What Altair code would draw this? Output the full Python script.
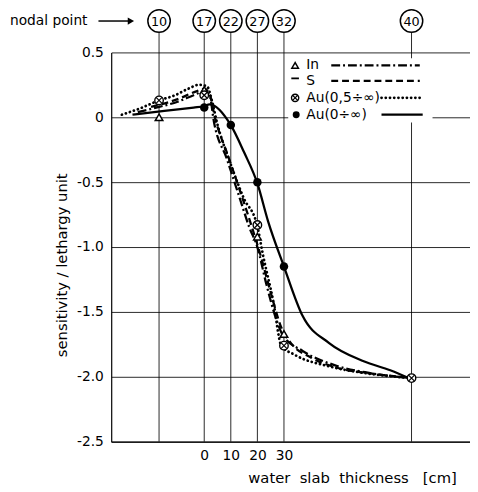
import altair as alt
import pandas as pd

FONT = "DejaVu Sans"
NB = "\u00a0"

# nodal points (water slab thickness position, cm)
nodal_labels = ["10", "17", "22", "27", "32", "40"]
nodal_x = [-17, 0, 10, 20, 30, 78]

x_ticks = [0, 10, 20, 30]
y_ticks = [0.5, 0, -0.5, -1.0, -1.5, -2.0, -2.5]

# curves
in_x = [-25, -17, -10, -4, 0, 2, 3.7, 8.5, 13.3, 17, 20, 23.3, 27, 29.6, 37, 49, 62, 78]
in_y = [0.04, 0.08, 0.12, 0.17, 0.20, 0.17, -0.04, -0.32, -0.62, -0.85, -1.0, -1.28, -1.55, -1.68, -1.80, -1.91, -1.97, -2.01]

s_x = [-20, -10, -3, 0, 2, 4, 9, 14, 18, 21, 25, 29, 33, 40, 50, 65, 78]
s_y = [0.08, 0.14, 0.20, 0.22, 0.18, 0.0, -0.30, -0.60, -0.85, -1.05, -1.35, -1.62, -1.75, -1.85, -1.93, -1.98, -2.01]

au05_x = [-31, -24, -17, -11, -6, -2, 1, 3, 4.8, 9.6, 14.8, 20, 22, 26, 29, 34, 47, 60, 78]
au05_y = [0.02, 0.07, 0.13, 0.17, 0.22, 0.25, 0.24, 0.12, -0.04, -0.34, -0.62, -0.84, -1.05, -1.42, -1.76, -1.83, -1.92, -1.97, -2.01]

au0_x = [-27, -15, -4, 0, 2, 10, 15, 20, 24, 30, 37, 47, 60, 70, 78]
au0_y = [0.02, 0.05, 0.075, 0.085, 0.10, -0.06, -0.27, -0.51, -0.80, -1.15, -1.53, -1.74, -1.88, -1.95, -2.02]

# markers
in_mark_x = [-17, 0, 20, 30]
in_mark_y = [0.0, 0.21, -0.92, -1.67]
au05_mark_x = [-17, 0, 20, 30, 78]
au05_mark_y = [0.13, 0.17, -0.83, -1.76, -2.01]
au0_mark_x = [0, 10, 20, 30]
au0_mark_y = [0.075, -0.06, -0.5, -1.15]

# legend
legend_names = ["In", "S", "Au(0,5÷∞)", "Au(0÷∞)"]
legend_y = [0.40, 0.28, 0.15, 0.02]
legend_line_x = [47.8, 47.8, 66.7, 66.7]
legend_line_x2 = [81.1, 81.1, 81.1, 82.2]

XS = alt.Scale(domain=[-35, 100], nice=False, zero=False)
YS = alt.Scale(domain=[-2.5, 0.5], nice=False, zero=False)

styles = {
    "In": dict(strokeDash=[9, 3, 2, 3], strokeWidth=2.3),
    "S": dict(strokeDash=[7, 4], strokeWidth=2.3),
    "Au(0,5÷∞)": dict(strokeDash=[0.1, 4.2], strokeWidth=2.8, strokeCap="round"),
    "Au(0÷∞)": dict(strokeWidth=2.3),
}

y_label_expr = "datum.value == 0 ? '0' : replace(format(datum.value, '.1f'), '\u2212', '-')"
x_title = f"water{NB}{NB}slab{NB}{NB}thickness{NB}{NB}{NB}[cm]"

base = alt.Chart(pd.DataFrame({"x": x_ticks, "y": [0] * len(x_ticks)})).mark_point(opacity=0).encode(
    x=alt.X("x:Q", scale=XS, axis=alt.Axis(
        values=x_ticks, grid=False, ticks=False, domainColor="black", domainWidth=1.2,
        labelFont=FONT, labelFontSize=14, labelColor="black", labelPadding=7,
        title=x_title, titleFont=FONT, titleFontSize=15,
        titleFontWeight="normal", titleColor="black", titleX=245, titleY=37,
        titleBaseline="middle", titleAlign="center")),
    y=alt.Y("y:Q", scale=YS, axis=alt.Axis(
        values=y_ticks, grid=True, gridColor="black", gridWidth=1, gridOpacity=0.85,
        ticks=False, domainColor="black", domainWidth=1.2,
        labelFont=FONT, labelFontSize=14, labelColor="black", labelPadding=8,
        labelExpr=y_label_expr,
        title="sensitivity / lethargy unit", titleFont=FONT, titleFontSize=15,
        titleFontWeight="normal", titleColor="black", titleX=-50, titleY=216,
        titleAngle=270, titleBaseline="middle", titleAlign="center")),
)

layers = [base]

# nodal vertical lines
nd = pd.DataFrame({"x": nodal_x, "label": nodal_labels,
                   "y0": [-2.5] * 6, "y1": [0.652] * 6, "yc": [0.742] * 6})
layers.append(alt.Chart(nd).mark_rule(color="black", strokeWidth=1, opacity=0.85).encode(
    x=alt.X("x:Q", scale=XS), y=alt.Y("y0:Q", scale=YS), y2="y1:Q"))

# legend background
box = pd.DataFrame({"x": [31.6], "x2": [85.9], "y": [0.455], "y2": [-0.04]})
layers.append(alt.Chart(box).mark_rect(fill="white").encode(
    x=alt.X("x:Q", scale=XS), x2="x2:Q", y=alt.Y("y:Q", scale=YS), y2="y2:Q"))

# curves
curves = {"In": (in_x, in_y), "S": (s_x, s_y), "Au(0,5÷∞)": (au05_x, au05_y), "Au(0÷∞)": (au0_x, au0_y)}
for name, (cx, cy) in curves.items():
    df = pd.DataFrame({"x": cx, "y": cy})
    layers.append(alt.Chart(df).mark_line(color="black", interpolate="monotone", **styles[name]).encode(
        x=alt.X("x:Q", scale=XS), y=alt.Y("y:Q", scale=YS)))

XPATH = "M-0.7,-0.7L0.7,0.7M-0.7,0.7L0.7,-0.7"

def tri(df, size=60):
    return alt.Chart(df).mark_point(shape="triangle-up", filled=True, fill="white", stroke="black",
                                    strokeWidth=1.5, size=size, opacity=1).encode(
        x=alt.X("x:Q", scale=XS), y=alt.Y("y:Q", scale=YS))

def otimes(df, size=75):
    c = alt.Chart(df).mark_point(shape="circle", filled=True, fill="white", stroke="black",
                                 strokeWidth=1.4, size=size, opacity=1).encode(
        x=alt.X("x:Q", scale=XS), y=alt.Y("y:Q", scale=YS))
    xx = alt.Chart(df).mark_point(shape=XPATH, filled=False, stroke="black",
                                  strokeWidth=1.2, size=size, opacity=1).encode(
        x=alt.X("x:Q", scale=XS), y=alt.Y("y:Q", scale=YS))
    return [c, xx]

def dot(df, size=75):
    return alt.Chart(df).mark_point(shape="circle", filled=True, color="black", size=size, opacity=1).encode(
        x=alt.X("x:Q", scale=XS), y=alt.Y("y:Q", scale=YS))

layers.append(tri(pd.DataFrame({"x": in_mark_x, "y": in_mark_y})))
layers += otimes(pd.DataFrame({"x": au05_mark_x, "y": au05_mark_y}))
layers.append(dot(pd.DataFrame({"x": au0_mark_x, "y": au0_mark_y})))

# legend rows
for i, name in enumerate(legend_names):
    ldf = pd.DataFrame({"x": [legend_line_x[i]], "x2": [legend_line_x2[i]], "y": [legend_y[i]]})
    layers.append(alt.Chart(ldf).mark_rule(color="black", **styles[name]).encode(
        x=alt.X("x:Q", scale=XS), x2="x2:Q", y=alt.Y("y:Q", scale=YS)))
sym_x = 34.2
layers.append(tri(pd.DataFrame({"x": [sym_x], "y": [legend_y[0]]}), size=45))
layers.append(alt.Chart(pd.DataFrame({"x": [sym_x], "y": [legend_y[1] + 0.02]})).mark_point(
    shape="stroke", stroke="black", strokeWidth=1.8, size=60, opacity=1).encode(
    x=alt.X("x:Q", scale=XS), y=alt.Y("y:Q", scale=YS)))
layers += otimes(pd.DataFrame({"x": [sym_x], "y": [legend_y[2]]}), size=55)
layers.append(dot(pd.DataFrame({"x": [sym_x + 0.4], "y": [legend_y[3]]}), size=50))
lt = pd.DataFrame({"x": [38.4] * 4, "y": legend_y, "t": legend_names})
layers.append(alt.Chart(lt).mark_text(align="left", baseline="middle", font=FONT, fontSize=14,
                                      color="black").encode(
    x=alt.X("x:Q", scale=XS), y=alt.Y("y:Q", scale=YS), text="t:N"))

# nodal circles and numbers
layers.append(alt.Chart(nd).mark_point(shape="circle", filled=True, fill="white", stroke="black",
                                       strokeWidth=1.5, size=520, opacity=1).encode(
    x=alt.X("x:Q", scale=XS), y=alt.Y("yc:Q", scale=YS)))
layers.append(alt.Chart(nd).mark_text(font=FONT, fontSize=13, color="black", baseline="middle",
                                      align="center", dy=1).encode(
    x=alt.X("x:Q", scale=XS), y=alt.Y("yc:Q", scale=YS), text="label:N"))

# "nodal point" annotation with arrow
ann = pd.DataFrame({"x": [-73.1], "y": [0.742], "t": ["nodal point"]})
layers.append(alt.Chart(ann).mark_text(align="left", baseline="middle", font=FONT, fontSize=14,
                                       color="black").encode(
    x=alt.X("x:Q", scale=XS), y=alt.Y("y:Q", scale=YS), text="t:N"))
arr = pd.DataFrame({"x": [-39.8], "x2": [-28.0], "y": [0.742]})
layers.append(alt.Chart(arr).mark_rule(color="black", strokeWidth=1.5).encode(
    x=alt.X("x:Q", scale=XS), x2="x2:Q", y=alt.Y("y:Q", scale=YS)))
layers.append(alt.Chart(pd.DataFrame({"x": [-27.6], "y": [0.742]})).mark_point(
    shape="triangle-right", filled=True, color="black", size=55, opacity=1).encode(
    x=alt.X("x:Q", scale=XS), y=alt.Y("y:Q", scale=YS)))

chart = alt.layer(*layers).properties(
    width=365, height=396,
    autosize=alt.AutoSizeParams(type="none"),
    padding={"left": 105, "top": 41, "right": 0, "bottom": 47},
    background="white",
).configure_view(stroke=None)

chart.save("out.html", embed_options={"renderer": "svg", "actions": False})
